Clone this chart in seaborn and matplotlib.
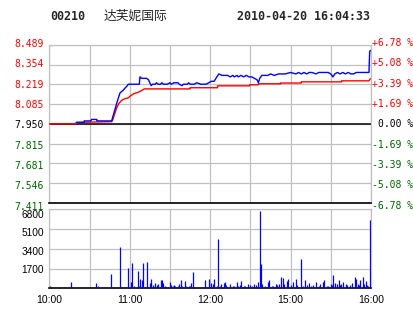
import matplotlib
matplotlib.use("Agg")
import matplotlib.pyplot as plt
import matplotlib.transforms as mtransforms
import seaborn as sns
import pandas as pd

# ---------------- data ----------------
code = "00210"
name = "达芙妮国际"
stamp = "2010-04-20 16:04:33"
prev_close = 7.950

price_ticks = [7.411, 7.546, 7.681, 7.815, 7.950, 8.085, 8.219, 8.354, 8.489]
pct_labels = ["-6.78 %", "-5.08 %", "-3.39 %", "-1.69 %", "0.00 %",
              "+1.69 %", "+3.39 %", "+5.08 %", "+6.78 %"]
time_ticks = [0, 30, 60, 90, 120, 150, 180, 210, 240]
time_labels = ["10:00", "", "11:00", "", "12:00", "", "15:00", "", "16:00"]
vol_ticks = [1700, 3400, 5100, 6800]

# price line (minute from 10:00 on a continuous trading clock, price)
price_min = [20, 26, 26, 31, 31.5, 35.5, 35.5, 46.5, 50.3, 52.7, 55.2, 58.2, 59,
             67.2, 67.6, 69, 72.5, 74, 76, 77, 79, 80, 81, 83, 84, 85, 88, 90,
             91, 93, 96, 97, 99, 100, 103, 104, 105, 108, 110, 113, 117, 119,
             121, 123, 125, 126.5, 129, 131, 133, 135, 137, 138, 140, 141, 143,
             145, 147, 149, 151, 153, 155, 156, 157, 158.5, 163, 165, 168, 171,
             173, 176, 180, 184, 186, 188, 190, 192, 194, 196, 199, 201, 205,
             208, 210, 211.6, 213, 215, 217, 219, 221, 223, 225, 227, 229, 232,
             234, 236, 238.5, 239, 239.5]
price_val = [7.96, 7.96, 7.97, 7.97, 7.98, 7.98, 7.97, 7.97, 8.09, 8.16, 8.18, 8.21, 8.22,
             8.22, 8.27, 8.26, 8.26, 8.25, 8.21, 8.22, 8.22, 8.23, 8.22, 8.22, 8.23, 8.22, 8.22, 8.23,
             8.22, 8.23, 8.23, 8.22, 8.21, 8.22, 8.22, 8.23, 8.22, 8.22, 8.23, 8.22, 8.22, 8.23,
             8.24, 8.24, 8.27, 8.29, 8.28, 8.28, 8.28, 8.27, 8.28, 8.27, 8.28, 8.27, 8.28,
             8.27, 8.28, 8.27, 8.27, 8.26, 8.25, 8.23, 8.26, 8.28, 8.28, 8.29, 8.28, 8.29,
             8.29, 8.29, 8.30, 8.29, 8.30, 8.29, 8.30, 8.29, 8.30, 8.30, 8.29, 8.30, 8.30,
             8.30, 8.29, 8.27, 8.29, 8.30, 8.29, 8.30, 8.29, 8.30, 8.29, 8.29, 8.30, 8.30,
             8.30, 8.30, 8.30, 8.44, 8.45]

# average price line
avg_min = [0, 20, 20.5, 46.6, 47, 48.5, 50.3, 52, 54, 56, 58.9, 60.5, 62.7, 64.5,
           66.4, 68.5, 70.9, 105, 105, 125.5, 125.5, 149.5, 149.5, 156, 156,
           172.5, 172.5, 188, 188, 218, 218, 238.5, 239.5]
avg_val = [7.950, 7.950, 7.960, 7.965, 7.970, 8.010, 8.060, 8.090, 8.110, 8.120,
           8.127, 8.140, 8.154, 8.160, 8.165, 8.175, 8.188, 8.188, 8.196, 8.196,
           8.209, 8.209, 8.216, 8.216, 8.223, 8.223, 8.228, 8.228, 8.236, 8.236,
           8.243, 8.243, 8.257]

# volume per minute
vol_min = [0.5, 16, 35, 36, 46, 53, 59, 61, 62, 63, 66, 67, 68, 69, 70, 73, 75, 76, 77,
           79, 80, 81, 83, 84, 85, 86, 90, 91, 92, 93, 94, 96, 97, 98, 99, 101, 102,
           104, 105, 106, 107, 116, 119, 121, 122, 123, 125, 126, 127, 128, 130, 131,
           132, 135, 137, 138, 140, 141, 142, 143, 145, 146, 148, 150, 151, 153, 154,
           156, 157, 158, 159, 161, 163, 164, 166, 167, 169, 170, 171, 173, 174, 175,
           177, 178, 180, 182, 184, 185, 188, 189, 191, 192, 194, 195, 197, 199, 201,
           202, 204, 205, 207, 208, 210, 211, 212, 213, 215, 216, 217, 218, 219, 221,
           222, 224, 226, 228, 229, 230, 231, 232, 234, 235, 236, 237, 238, 239.5]
vol_val = [200, 570, 460, 200, 1230, 3560, 1750, 540, 2180, 200, 1490, 200, 800, 720,
           2180, 2270, 460, 800, 290, 460, 290, 370, 720, 720, 460, 200, 545, 290, 200,
           290, 200, 200, 370, 720, 200, 630, 200, 200, 200, 460, 1400, 720, 800, 460,
           370, 800, 200, 4250, 200, 370, 460, 545, 290, 370, 200, 200, 545, 200, 290,
           630, 200, 200, 370, 290, 200, 370, 290, 545, 6660, 2100, 370, 200, 545, 720,
           200, 200, 370, 290, 370, 970, 890, 370, 630, 800, 290, 545, 800, 290, 2530,
           200, 720, 290, 460, 200, 290, 545, 200, 370, 545, 720, 200, 200, 370, 290,
           1150, 460, 370, 720, 290, 370, 545, 370, 290, 290, 460, 980, 800, 370, 290,
           720, 980, 370, 630, 290, 200, 5880]

# ---------------- style ----------------
sns.set_theme(style="white")
plt.rcParams["font.family"] = ["DejaVu Sans Mono", "Noto Sans CJK SC"]

RED = "#ff0000"
GREEN = "#006400"
BLUE = "#0000ff"
GRID = "#c0c0c0"
TICK_FS = 7.0
VOL_FS = 7.3

fig = plt.figure(figsize=(4.14, 3.14), dpi=100)
fig.patch.set_facecolor("white")

ax = fig.add_axes([0.1191, 0.3535, 0.7770, 0.5041])
axv = fig.add_axes([0.1191, 0.0818, 0.7770, 0.2516])

df_p = pd.DataFrame({"m": price_min, "p": price_val})
df_a = pd.DataFrame({"m": avg_min, "p": avg_val})

ax.set_xlim(0, 240)
ax.set_ylim(price_ticks[0], price_ticks[-1])
ax.set_xticks(time_ticks)
ax.set_xticklabels([])
ax.set_yticks(price_ticks)
ax.grid(True, color=GRID, lw=0.9)
ax.set_axisbelow(True)
ax.axhline(prev_close, color="black", lw=1.1, zorder=2)

sns.lineplot(data=df_a, x="m", y="p", ax=ax, color=RED, lw=1.0,
             sort=False, estimator=None, zorder=3)
sns.lineplot(data=df_p, x="m", y="p", ax=ax, color=BLUE, lw=1.0,
             sort=False, estimator=None, zorder=4)
ax.set_xlabel("")
ax.set_ylabel("")

for s in ["top", "left", "right"]:
    ax.spines[s].set_color(GRID)
    ax.spines[s].set_linewidth(0.9)
ax.spines["bottom"].set_color("black")
ax.spines["bottom"].set_linewidth(1.2)


def col(v):
    if abs(v - prev_close) < 1e-6:
        return "black"
    return RED if v > prev_close else GREEN


n = len(price_ticks)


def nudge(i):
    # bottom label nudged up, top label nudged down (as in the reference)
    return -2.6 + 4.6 * i / (n - 1)


ax.set_yticklabels([f"{v:.3f}" for v in price_ticks], fontsize=TICK_FS)
ax.tick_params(axis="y", length=0, pad=3.8)
ax.tick_params(axis="x", length=0)
for i, (lab, v) in enumerate(zip(ax.get_yticklabels(), price_ticks)):
    lab.set_color(col(v))
    lab.set_transform(lab.get_transform() +
                      mtransforms.ScaledTranslation(0, nudge(i) / 100, fig.dpi_scale_trans))

# right-hand percentage labels, right-aligned at the figure edge
rt = mtransforms.blended_transform_factory(fig.transFigure, ax.transData)
for i, (txt, v) in enumerate(zip(pct_labels, price_ticks)):
    fig.text(413.5 / 414, v, txt, transform=rt + mtransforms.ScaledTranslation(
        0, nudge(i) / 100, fig.dpi_scale_trans), ha="right", va="center",
        fontsize=TICK_FS, color=col(v), family="DejaVu Sans Mono")

# ---------------- volume ----------------
axv.set_xlim(0, 240)
axv.set_ylim(0, 6800)
axv.set_xticks(time_ticks)
axv.set_xticklabels(time_labels, fontsize=7.5, family="Liberation Sans")
axv.set_yticks(vol_ticks)
axv.set_yticklabels([str(v) for v in vol_ticks], fontsize=VOL_FS, family="Liberation Sans")
axv.grid(True, color=GRID, lw=0.9)
axv.set_axisbelow(True)
axv.vlines(vol_min, 0, vol_val, color=BLUE, lw=0.9, zorder=3)
axv.tick_params(axis="y", length=0, pad=3.8)
axv.tick_params(axis="x", length=0, pad=5)
vol_offs = [0.7, 2.4, 3.2, 4.8]
for lab, d in zip(axv.get_yticklabels(), vol_offs):
    lab.set_color("black")
    lab.set_transform(lab.get_transform() +
                      mtransforms.ScaledTranslation(0, -d / 100, fig.dpi_scale_trans))
for lab in axv.get_xticklabels():
    lab.set_color("black")
for s in ["top", "left", "right"]:
    axv.spines[s].set_color(GRID)
    axv.spines[s].set_linewidth(0.9)
axv.spines["bottom"].set_color("black")
axv.spines["bottom"].set_linewidth(1.2)

# ---------------- header ----------------
ty = 1 - 16.5 / 314
fig.text(50 / 414, ty, code, fontsize=8.4, fontweight="bold", va="center", ha="left",
         family="DejaVu Sans Mono")
fig.text(104 / 414, ty, name, fontsize=9.2, va="center", ha="left",
         family=["Noto Sans CJK SC", "DejaVu Sans"])
fig.text(237 / 414, ty, stamp, fontsize=8.4, fontweight="bold", va="center", ha="left",
         family="DejaVu Sans Mono")

fig.savefig("out.png", dpi=100, facecolor="white")
